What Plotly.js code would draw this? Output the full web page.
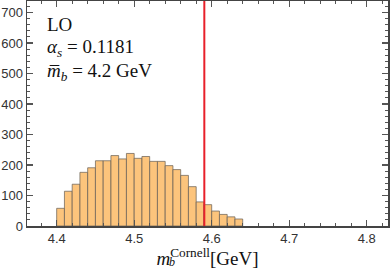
<!DOCTYPE html>
<html>
<head>
<meta charset="utf-8">
<script src="https://cdn.plot.ly/plotly-3.0.1.min.js"></script>
<style>html,body{margin:0;padding:0;background:#fff;}#plot{width:390px;height:269px;}</style>
</head>
<body>
<div id="plot"></div>
<script>
// bin left edges (GeV), bin width 0.01
const binEdges = [4.40,4.41,4.42,4.43,4.44,4.45,4.46,4.47,4.48,4.49,4.50,4.51,4.52,4.53,4.54,4.55,4.56,4.57,4.58,4.59,4.60,4.61,4.62,4.63];
const counts   = [58,114,137,176,191,214,214,231,220,238,222,228,212,212,198,185,166,129,79,70,49,38,30,23];
const binWidth = 0.01;
const redLineX = 4.5905;
const xTicks = [4.4,4.5,4.6,4.7,4.8];
const yTicks = [0,100,200,300,400,500,600,700];

const SERIF = "'Liberation Serif', 'Times New Roman', serif";
const SANS = "'Liberation Sans', Arial, sans-serif";

const trace = {
  type: 'bar',
  x: binEdges,
  y: counts,
  width: binEdges.map(() => binWidth),
  offset: 0,
  marker: {color: 'rgba(252,190,110,0.9)', line: {color: 'rgba(110,100,90,0.75)', width: 1}},
  hoverinfo: 'skip'
};

const layout = {
  width: 390, height: 269,
  margin: {l: 27, r: 2, t: 1, b: 43},
  paper_bgcolor: '#fff', plot_bgcolor: '#fff',
  showlegend: false,
  bargap: 0,
  xaxis: {
    range: [4.3617, 4.8275],
    tickvals: xTicks, ticktext: xTicks.map(v => v.toFixed(1)),
    ticks: 'inside', ticklen: 6, tickwidth: 1.2, tickcolor: '#555',
    minor: {dtick: 0.02, tick0: 4.4, ticks: 'inside', ticklen: 3, tickcolor: '#555', tickwidth: 1},
    showline: true, linecolor: '#444', linewidth: 1.5, mirror: 'allticks',
    showgrid: false, zeroline: false,
    tickfont: {family: SANS, size: 13, color: '#333'},
    title: {text: '<i>m</i><sup>Cornell</sup>[GeV]', font: {family: SERIF, size: 19, color: '#111'}, standoff: 4}
  },
  yaxis: {
    range: [0, 738],
    tickvals: yTicks,
    ticks: 'inside', ticklen: 6, tickwidth: 1.2, tickcolor: '#555',
    minor: {dtick: 20, ticks: 'inside', ticklen: 3, tickcolor: '#555', tickwidth: 1},
    showline: true, linecolor: '#444', linewidth: 1.5, mirror: 'allticks',
    showgrid: false, zeroline: false,
    tickfont: {family: SANS, size: 13, color: '#333'}
  },
  shapes: [{type: 'line', xref: 'x', yref: 'paper', x0: redLineX, x1: redLineX, y0: 0, y1: 1,
            line: {color: '#e8202a', width: 2}}],
  annotations: [
    {text: 'LO', xref: 'paper', yref: 'paper', x: 0.05, y: 0.895, xanchor: 'left', yanchor: 'middle', showarrow: false,
     font: {family: SERIF, size: 19, color: '#111'}},
    {text: '<i>α<sub>s</sub></i> = 0.1181', xref: 'paper', yref: 'paper', x: 0.05, y: 0.79, xanchor: 'left', yanchor: 'middle', showarrow: false,
     font: {family: SERIF, size: 19, color: '#111'}},
    {text: '<i>m\u0305</i><sub><i>b</i></sub> = 4.2 GeV', xref: 'paper', yref: 'paper', x: 0.05, y: 0.685, xanchor: 'left', yanchor: 'middle', showarrow: false,
     font: {family: SERIF, size: 19, color: '#111'}},
    {text: '<i>b</i>', xref: 'paper', yref: 'paper', x: 0.387, y: -0.158, xanchor: 'left', yanchor: 'middle', showarrow: false,
     font: {family: SERIF, size: 12, color: '#111'}}
  ]
};

Plotly.newPlot('plot', [trace], layout, {staticPlot: true, displayModeBar: false});
</script>
</body>
</html>
